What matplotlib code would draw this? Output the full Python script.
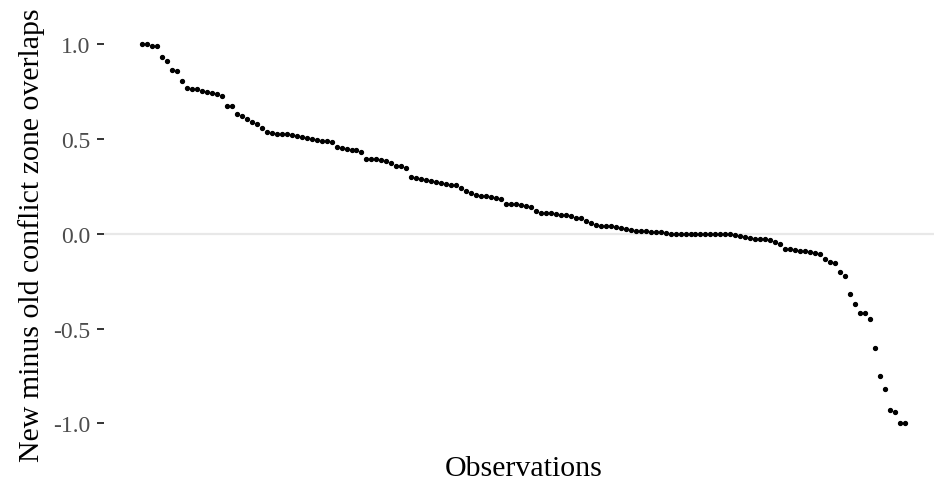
"""Sorted differences in conflict zone overlap (new minus old), one dot per observation."""

import matplotlib

matplotlib.use("Agg")
import matplotlib.pyplot as plt

# sorted values
overlap_diff = [
    1.0, 1.0, 0.993, 0.99, 0.936, 0.91, 0.867, 0.858, 0.807, 0.77,
    0.767, 0.763, 0.756, 0.749, 0.744, 0.737, 0.728, 0.677, 0.674, 0.633,
    0.623, 0.605, 0.589, 0.579, 0.561, 0.540, 0.533, 0.529, 0.528, 0.526,
    0.524, 0.519, 0.512, 0.508, 0.503, 0.494, 0.492, 0.489, 0.485, 0.461,
    0.454, 0.447, 0.443, 0.442, 0.433, 0.397, 0.397, 0.394, 0.391, 0.384,
    0.375, 0.357, 0.357, 0.347, 0.301, 0.294, 0.290, 0.283, 0.278, 0.274,
    0.271, 0.264, 0.260, 0.257, 0.241, 0.227, 0.218, 0.206, 0.202, 0.201,
    0.197, 0.188, 0.185, 0.158, 0.158, 0.155, 0.151, 0.148, 0.144, 0.120,
    0.112, 0.111, 0.111, 0.107, 0.102, 0.097, 0.093, 0.086, 0.081, 0.070,
    0.056, 0.049, 0.042, 0.039, 0.039, 0.035, 0.032, 0.025, 0.021, 0.014,
    0.014, 0.014, 0.011, 0.011, 0.011, 0.004, 0.0, 0.0, 0.0, 0.0,
    0.0, 0.0, 0.0, 0.0, 0.0, 0.0, 0.0, 0.0, 0.0, -0.005,
    -0.011, -0.019, -0.023, -0.025, -0.026, -0.028, -0.032, -0.044, -0.056, -0.079,
    -0.080, -0.084, -0.089, -0.090, -0.094, -0.100, -0.109, -0.134, -0.149, -0.156,
    -0.204, -0.225, -0.320, -0.369, -0.417, -0.417, -0.452, -0.601, -0.751, -0.821,
    -0.928, -0.943, -1.0, -1.0,
]
y_ticks = [-1.0, -0.5, 0.0, 0.5, 1.0]
y_tick_labels = ["-1.0", "-0.5", "0.0", "0.5", "1.0"]

x_label = "Observations"
y_label = "New minus old conflict zone overlaps"


def plot(out: str) -> None:
    plt.rcParams["font.family"] = ["Liberation Serif", "DejaVu Serif"]
    fig = plt.figure(figsize=(9.34, 4.85), dpi=100)
    # panel runs a little past the right edge, like the cropped original
    ax = fig.add_axes([104 / 934, 0.0862, 839 / 934, 0.8592])

    n = len(overlap_diff)
    xs = list(range(1, n + 1))
    pad = 0.05 * (n - 1)
    ax.set_xlim(1 - pad, n + pad)
    ax.set_ylim(-1.1, 1.1)

    ax.axhline(0, color="#e8e8e8", linewidth=1.6, zorder=1)
    ax.plot(xs, overlap_diff, linestyle="none", marker="o", markersize=2.8,
            color="black", zorder=3)

    for side in ("top", "right", "bottom", "left"):
        ax.spines[side].set_visible(False)
    ax.set_xticks([])
    ax.set_yticks(y_ticks)
    ax.set_yticklabels(y_tick_labels)
    ax.tick_params(axis="y", length=5, width=1.4, color="#333333",
                   labelcolor="#4d4d4d", labelsize=17, pad=5)

    ax.set_xlabel(x_label, fontsize=21.5, labelpad=9)
    ax.set_ylabel(y_label, fontsize=21.5, labelpad=6)

    fig.savefig(out, dpi=100)
    plt.close(fig)


if __name__ == "__main__":
    plot("out.png")
